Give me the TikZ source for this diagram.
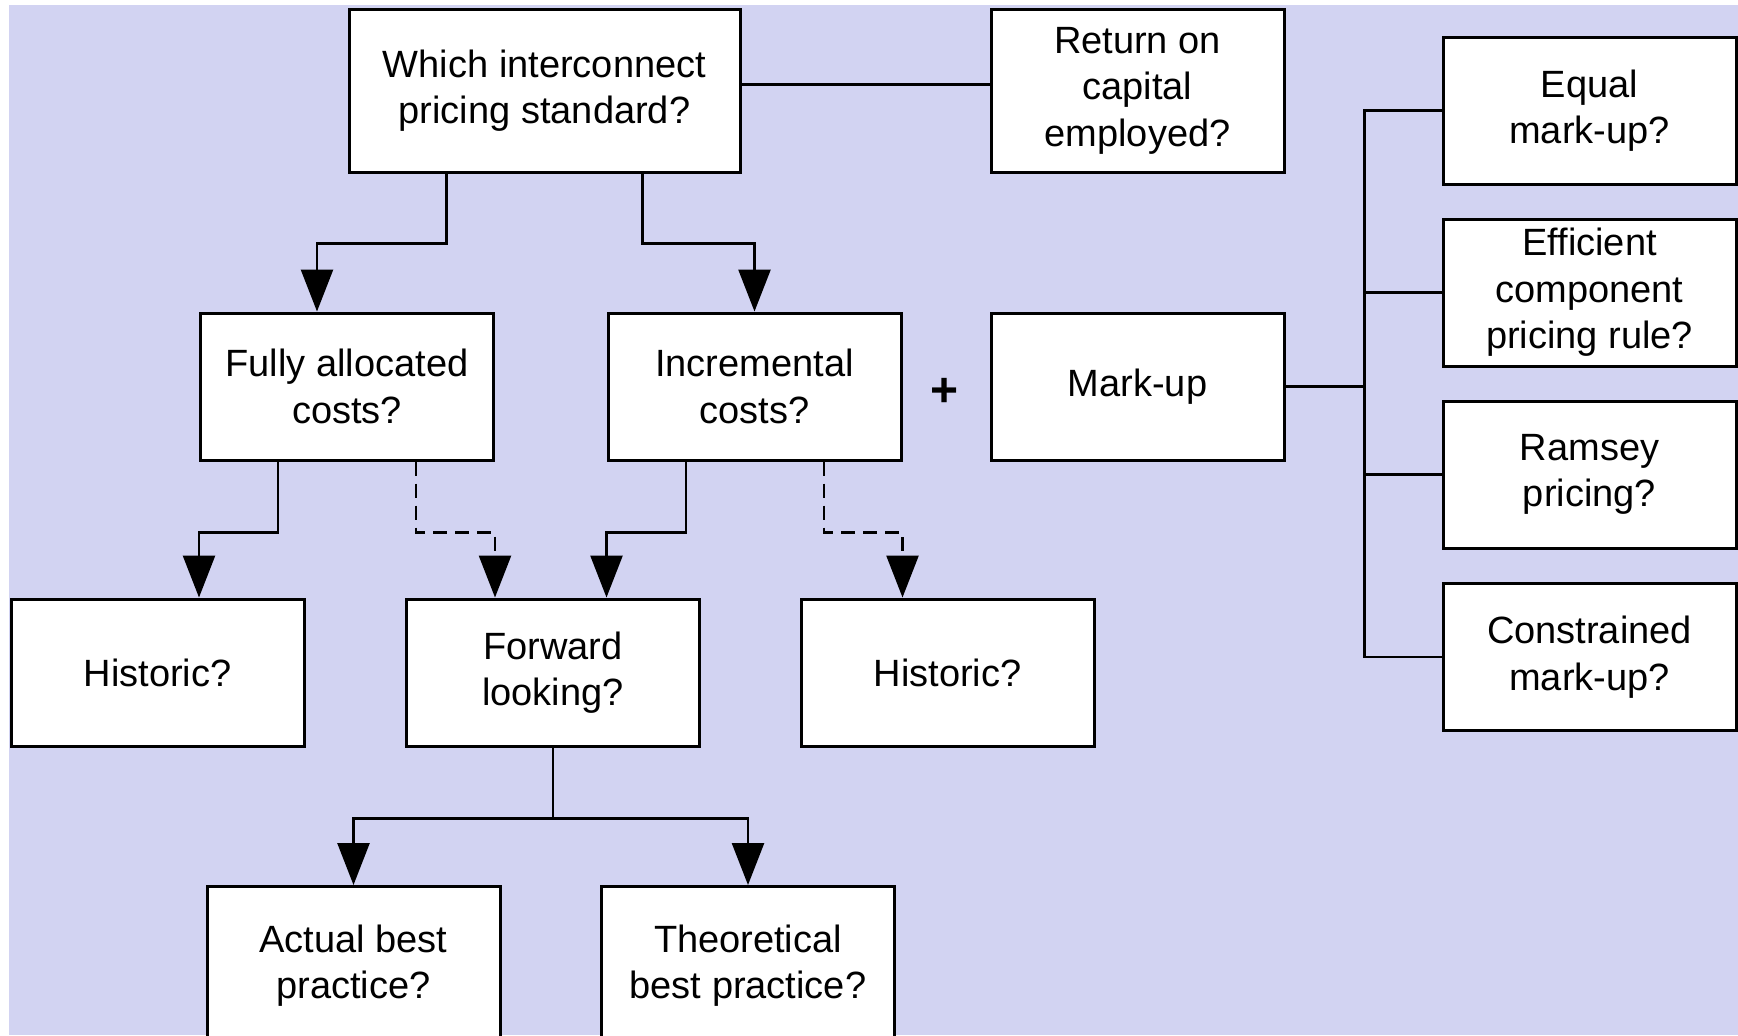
\documentclass[tikz,border=0pt]{standalone}
\usepackage{fontspec}
\setmainfont{Liberation Sans}
\usetikzlibrary{arrows.meta, positioning, backgrounds}
\definecolor{lavender}{RGB}{210,211,242}

\tikzset{
  box/.style={draw, line width=1.5pt, fill=white, minimum width=146.5pt, minimum height=73.5pt,
    align=center, inner sep=2pt, font=\fontsize{19}{23.25}\selectfont},
  wide/.style={minimum width=195.5pt, minimum height=81.5pt},
  tall/.style={minimum height=81.5pt},
  cut/.style={minimum height=79pt},
  link/.style={line width=1.3pt},
  maybe/.style={line width=1.3pt, dash pattern=on 7pt off 4pt},
}

\begin{document}
\begin{tikzpicture}[>={Triangle[length=21pt,width=16pt]}, node distance=148pt, on grid, auto]
        \useasboundingbox (0,0) rectangle (869pt,-517.5pt);
        \fill[lavender] (4.5pt,-2.5pt) rectangle (869pt,-517.5pt);
        \node[box,wide] (which) at (272.25pt,-45.25pt) {Which interconnect\\pricing standard?};
        \node[box,tall] (return) [right=296.5pt of which] {Return on\\capital\\employed?};
        \node[box] (markup) [below=of return] {Mark-up};
        \node[box] (incr) [left=191.5pt of markup] {Incremental\\costs?};
        \node[box] (fully) [left=203.75pt of incr] {Fully allocated\\costs?};
        \node[box] (forward) [below left=143pt and 100.75pt of incr] {Forward\\looking?};
        \node[box] (histA) [left=197.75pt of forward] {Historic?};
        \node[box] (histB) [right=197.25pt of forward] {Historic?};
        \node[box,cut] (actual) [below left=146.5pt and 99.75pt of forward] {Actual best\\practice?};
        \node[box,cut] (theory) [right=197.25pt of actual] {Theoretical\\best practice?};
        \node[box] (equal) [below right=10pt and 226pt of return] {Equal\\mark-up?};
        \node[box] (ecpr) [below=91pt of equal] {Efficient\\component\\pricing rule?};
        \node[box] (ramsey) [below=91pt of ecpr] {Ramsey\\pricing?};
        \node[box] (constr) [below=91.25pt of ramsey] {Constrained\\mark-up?};
        \node[font=\fontsize{24}{24}\bfseries] (plus) at ([xshift=21pt,yshift=-3pt]incr.east) {+};
        \coordinate (trunk) at ([xshift=39.5pt]markup.east);
        \draw[link] ([yshift=3pt]which.east) -- ([yshift=3pt]return.west);
        \draw[link,->] ([xshift=-49pt]which.south) -- ++(0,-35pt) -| ([xshift=-15pt]fully.north);
        \draw[link,->] ([xshift=49pt]which.south) -- ++(0,-35pt) -| (incr.north);
        \draw[link,->] ([xshift=-34.5pt]fully.south) -- ++(0,-35.5pt) -| (fully.west |- histA.north);
        \draw[maybe,->] ([xshift=34.5pt]fully.south) -- ++(0,-35.5pt) -| (fully.east |- forward.north);
        \draw[link,->] ([xshift=-34.25pt]incr.south) -- ++(0,-35.5pt) -| (incr.west |- forward.north);
        \draw[maybe,->] ([xshift=34.75pt]incr.south) -- ++(0,-35.5pt) -| (incr.east |- histB.north);
        \draw[link,->] (forward.south) -- ++(0,-35.5pt) -| (actual.north);
        \draw[link,->] (forward.south) -- ++(0,-35.5pt) -| (theory.north);
        \draw[link] (markup) -- (trunk);
        \draw[link] (equal.west) -| (trunk) |- (constr.west);
        \draw[link] (ecpr.west) -- (ecpr.west -| trunk);
        \draw[link] (ramsey.west) -- (ramsey.west -| trunk);
    \end{tikzpicture}
\end{document}
